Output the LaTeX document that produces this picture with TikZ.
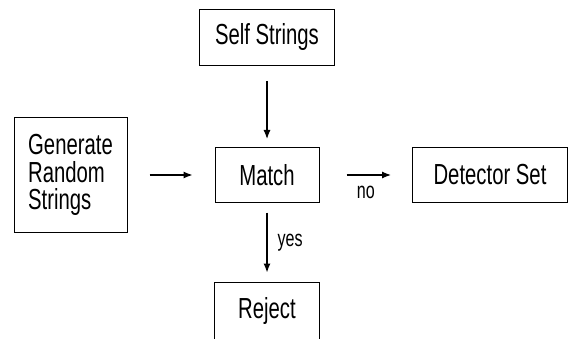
\documentclass[tikz,border=0pt]{standalone}
\usepackage{fontspec}
\setmainfont[FakeStretch=0.7]{Liberation Sans}
\usepackage{tikz}
\usetikzlibrary{arrows.meta}
\usetikzlibrary{positioning}

\begin{document}
\begin{tikzpicture}[
  x=1pt, y=1pt,
  box/.style={
    draw,
    line width=1pt,
    inner sep=0pt,
    align=center,
    font=\fontsize{29}{27.5}\selectfont
  },
  lbl/.style={
    font=\fontsize{23}{26}\selectfont,
    inner sep=0pt
  },
  arrow/.style={-{Latex[length=9pt,width=7pt]}, line width=1.2pt}
]
\useasboundingbox (0,0) rectangle (568,338);
\clip (0,0) rectangle (568,338);

\node[box, minimum width=104pt, minimum height=55pt] (match) at (267,163) {Match};
\node[box, minimum width=135pt, minimum height=56pt, above=81pt of match] (self) {Self Strings};
\node[box, minimum width=113pt, minimum height=115pt, align=left, left=87pt of match] (gen) {
  Generate\\
  Random\\
  Strings
};
\node[box, minimum width=155pt, minimum height=55pt, right=92.5pt of match] (det) {Detector Set};
\node[box, minimum width=105pt, minimum height=58pt, below=78.5pt of match] (reject) {Reject};

\draw[arrow, shorten <=15pt, shorten >=8pt] (self) -- (match);
\draw[arrow, shorten <=22pt, shorten >=22pt] (gen) -- (match);
\draw[arrow, shorten <=27pt, shorten >=21pt] (match) -- node[lbl, below=11pt] {no} (det);
\draw[arrow, shorten <=9.5pt, shorten >=9pt] (match) -- node[lbl, right=10pt] {yes} (reject);

\end{tikzpicture}
\end{document}
